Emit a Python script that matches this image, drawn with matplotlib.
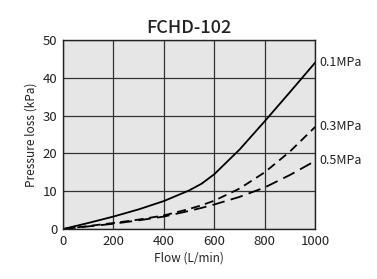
import matplotlib
matplotlib.use("Agg")
import matplotlib.pyplot as plt

plt.rcParams["font.family"] = ["Noto Sans CJK JP", "DejaVu Sans"]

# ── data ─────────────────────────────────────────────────────────────────────
flow = [0, 100, 200, 300, 400, 500, 550, 600, 700, 800, 900, 1000]
loss_01 = [0, 1.6, 3.3, 5.2, 7.4, 10.2, 12.0, 14.5, 21.0, 28.5, 36.2, 44.0]
loss_03 = [0, 0.8, 1.6, 2.5, 3.6, 5.3, 6.3, 7.5, 10.7, 15.0, 20.5, 27.0]
loss_05 = [0, 0.7, 1.4, 2.3, 3.3, 4.8, 5.6, 6.5, 8.5, 11.0, 14.3, 18.0]
labels = ["0.1MPa", "0.3MPa", "0.5MPa"]

fig = plt.figure(figsize=(3.77, 2.79), dpi=100)
ax = fig.add_axes([0.167, 0.179, 0.669, 0.678])
ax.set_facecolor("#e6e6e6")

ax.plot(flow, loss_01, color="black", lw=1.3)
ax.plot(flow, loss_03, color="black", lw=1.3, dashes=(5, 3))
ax.plot(flow, loss_05, color="black", lw=1.3, dashes=(7, 3.5))

for lab, ys in zip(labels, [loss_01, loss_03, loss_05]):
    ax.annotate(lab, (flow[-1], ys[-1]), xytext=(3, 0), textcoords="offset points",
                fontsize=9, va="center", ha="left", color="#222222", annotation_clip=False)

ax.set_xlim(0, 1000)
ax.set_ylim(0, 50)
ax.set_xticks(range(0, 1001, 200))
ax.set_yticks(range(0, 51, 10))
ax.grid(True, color="#333333", lw=0.9)
ax.set_axisbelow(True)
for s in ax.spines.values():
    s.set_color("#222222")
    s.set_linewidth(1.0)
ax.tick_params(length=0, labelsize=9.5, colors="#222222", pad=4)

ax.set_xlabel("Flow (L/min)", fontsize=8.5, color="#222222", labelpad=3)
ax.set_ylabel("Pressure loss (kPa)", fontsize=8.5, color="#222222", labelpad=4)
ax.set_title("FCHD-102", fontsize=13, fontweight="medium", color="#222222", pad=5)

fig.savefig("out.png", dpi=100)
